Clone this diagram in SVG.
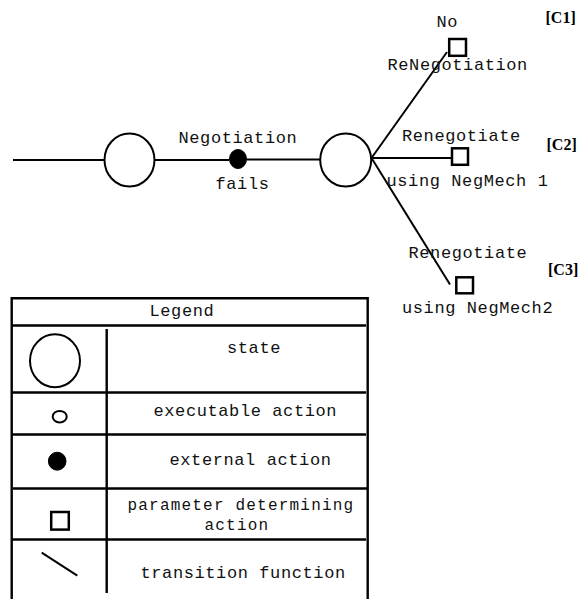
<svg xmlns="http://www.w3.org/2000/svg" width="582" height="599" viewBox="0 0 582 599">
  <style>
    .bg { fill: #ffffff; }
    .line { stroke: #000; stroke-width: 2; fill: none; stroke-linecap: butt; }
    .state { stroke: #000; stroke-width: 2; fill: #fff; }
    .ext { fill: #000; stroke: #000; stroke-width: 1; }
    .exe { fill: #fff; stroke: #000; stroke-width: 2; }
    .param { fill: #fff; stroke: #000; stroke-width: 2.5; }
    .grid { stroke: #000; stroke-width: 2.4; fill: none; }
    .lbl { font-family: "Liberation Mono", "DejaVu Sans Mono", monospace; font-size: 17px; letter-spacing: 0.6px; fill: #111; }
    .lbl-sm { font-family: "Liberation Mono", "DejaVu Sans Mono", monospace; font-size: 16px; letter-spacing: 1.2px; fill: #111; }
    .tag { font-family: "Liberation Serif", "Times New Roman", serif; font-size: 16px; font-weight: bold; fill: #000; }
  </style>

  <rect class="bg" x="0" y="0" width="582" height="599"/>

  <!-- transitions -->
  <g id="connectors">
    <line class="line" x1="13" y1="160" x2="104" y2="160"/>
    <line class="line" x1="155" y1="160" x2="229" y2="160"/>
    <line class="line" x1="247" y1="159.5" x2="320" y2="159.5"/>
    <line class="line" x1="371.5" y1="158" x2="447" y2="52"/>
    <line class="line" x1="371.5" y1="158" x2="451" y2="158"/>
    <line class="line" x1="371.5" y1="158" x2="450" y2="284.5"/>
  </g>

  <!-- states -->
  <g id="state-start">
    <ellipse class="state" cx="129.5" cy="160" rx="25" ry="26.5"/>
  </g>
  <g id="state-failed">
    <ellipse class="state" cx="345.7" cy="160" rx="25.5" ry="26.5"/>
  </g>

  <!-- external action -->
  <g id="action-negotiation-fails">
    <ellipse class="ext" cx="238" cy="159" rx="8.5" ry="9.5"/>
    <text class="lbl" x="178.5" y="142.7">Negotiation</text>
    <text class="lbl" x="215.5" y="189">fails</text>
  </g>

  <!-- parameter determining actions -->
  <g id="param-c1">
    <rect class="param" x="449.2" y="39" width="16.8" height="16.8"/>
    <text class="lbl" x="436.5" y="26.5">No</text>
    <text class="lbl" x="387.5" y="70">ReNegotiation</text>
    <text class="tag" x="545.5" y="22.7">[C1]</text>
  </g>
  <g id="param-c2">
    <rect class="param" x="452" y="148.3" width="16" height="16.5"/>
    <text class="lbl" x="402" y="140.7">Renegotiate</text>
    <text class="lbl" x="386.5" y="185.7">using NegMech 1</text>
    <text class="tag" x="546.5" y="150">[C2]</text>
  </g>
  <g id="param-c3">
    <rect class="param" x="456.3" y="277.3" width="16.7" height="16"/>
    <text class="lbl" x="408.5" y="258.3">Renegotiate</text>
    <text class="lbl" x="402" y="312.7">using NegMech2</text>
    <text class="tag" x="548" y="274.7">[C3]</text>
  </g>

  <!-- legend table -->
  <g id="legend">
    <path class="grid" d="M11.7,599 V298.3 H367.7 V599"/>
    <line class="grid" x1="11.7" y1="325.5" x2="366" y2="325.5"/>
    <line class="grid" x1="11.7" y1="392.5" x2="366" y2="392.5"/>
    <line class="grid" x1="11.7" y1="434.5" x2="366" y2="434.5"/>
    <line class="grid" x1="13" y1="488.5" x2="367" y2="488.5"/>
    <line class="grid" x1="11.7" y1="539.5" x2="366" y2="539.5"/>
    <line class="grid" x1="106.7" y1="329" x2="106.7" y2="593"/>

    <text class="lbl" x="149.5" y="316">Legend</text>

    <ellipse class="state" cx="55" cy="360.8" rx="25" ry="26.5"/>
    <text class="lbl" x="227" y="353">state</text>

    <ellipse class="exe" cx="59.7" cy="416.7" rx="7" ry="5.8"/>
    <text class="lbl" x="153.5" y="416">executable action</text>

    <ellipse class="ext" cx="57.2" cy="461.2" rx="8.8" ry="9"/>
    <text class="lbl" x="169.5" y="465">external action</text>

    <rect class="param" x="51.2" y="512" width="17.6" height="17.6"/>
    <text class="lbl-sm" x="127.5" y="510">parameter determining</text>
    <text class="lbl-sm" x="204.5" y="529.5">action</text>

    <line class="line" x1="41.7" y1="552.7" x2="77.3" y2="575.7"/>
    <text class="lbl" x="140.5" y="578.3">transition function</text>
  </g>
</svg>
